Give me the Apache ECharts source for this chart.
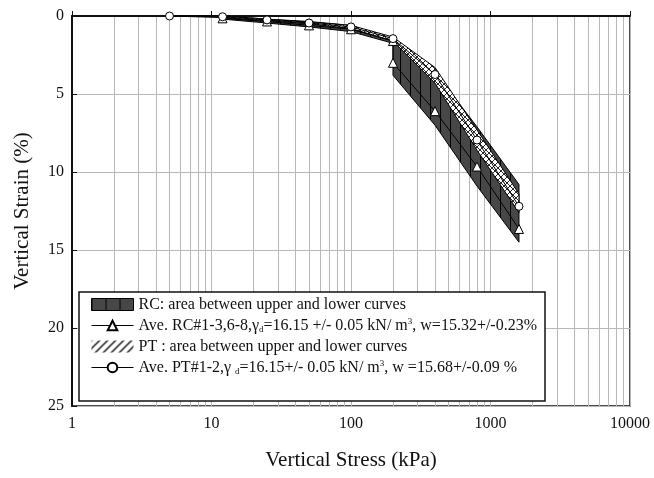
<!DOCTYPE html>
<html>
<head>
<meta charset="utf-8">
<script src="https://cdn.jsdelivr.net/npm/echarts@6/dist/echarts.min.js"></script>
<style>html,body{margin:0;padding:0;background:#fff;}#chart{width:654px;height:478px;}</style>
</head>
<body>
<div id="chart"></div>
<script>
// ---- data ----
var rcStress = [12, 25, 50, 100, 200, 200, 400, 800, 1600];
var rcAve    = [0.15, 0.35, 0.6, 0.85, 1.6, 3.0, 6.1, 9.65, 13.65];
var rcUpper  = [0.0, 0.2, 0.35, 0.6, 1.5, 1.6, 3.6, 7.1, 10.8];
var rcLower  = [0.2, 0.45, 0.7, 1.0, 1.75, 3.8, 7.0, 10.9, 14.5];

var ptStress = [5, 12, 25, 50, 100, 200, 400, 800, 1600];
var ptAve    = [0.0, 0.05, 0.25, 0.45, 0.7, 1.45, 3.75, 7.95, 12.2];
var ptUpper  = [0.0, 0.0, 0.2, 0.4, 0.6, 1.35, 3.3, 7.3, 11.4];
var ptLower  = [0.0, 0.1, 0.3, 0.5, 0.8, 1.6, 4.3, 8.6, 12.6];

var xTickLabels = ['1', '10', '100', '1000', '10000'];
var yTickLabels = ['0', '5', '10', '15', '20', '25'];

var nameRCBand = 'RC: area between upper and lower curves';
var nameRCAve  = 'Ave. RC#1-3,6-8,γd=16.15 +/- 0.05 kN/ m3, w=15.32+/-0.23%';
var namePTBand = 'PT : area between upper and lower curves';
var namePTAve  = 'Ave. PT#1-2,γ d=16.15+/- 0.05 kN/ m3, w =15.68+/-0.09 %';
var richNames = {};
richNames[nameRCBand] = 'RC: area between upper and lower curves';
richNames[nameRCAve]  = 'Ave. RC#1-3,6-8,γ{sub|d}=16.15 +/- 0.05 kN/ m{sup|3}, w=15.32+/-0.23%';
richNames[namePTBand] = 'PT : area between upper and lower curves';
richNames[namePTAve]  = 'Ave. PT#1-2,γ {sub|d}=16.15+/- 0.05 kN/ m{sup|3}, w =15.68+/-0.09 %';

// ---- patterns ----
function makePattern(w, h, draw) {
  var c = document.createElement('canvas');
  c.width = w; c.height = h;
  var ctx = c.getContext('2d');
  draw(ctx, w, h);
  return { image: c, repeat: 'repeat' };
}
var rcPlotPattern = makePattern(10, 20, function (ctx, w, h) {
  ctx.fillStyle = '#474747'; ctx.fillRect(0, 0, w, h);
  ctx.strokeStyle = '#000'; ctx.lineWidth = 1;
  ctx.beginPath(); ctx.moveTo(0.5, 0); ctx.lineTo(0.5, h); ctx.stroke();
});
var rcLegendPattern = makePattern(14, 14, function (ctx, w, h) {
  ctx.fillStyle = '#474747'; ctx.fillRect(0, 0, w, h);
  ctx.strokeStyle = '#000'; ctx.lineWidth = 2;
  ctx.beginPath(); ctx.moveTo(0, 0); ctx.lineTo(0, h); ctx.stroke();
});
var ptPlotPattern = makePattern(6, 6, function (ctx, w, h) {
  ctx.fillStyle = '#fff'; ctx.fillRect(0, 0, w, h);
  ctx.strokeStyle = '#111'; ctx.lineWidth = 0.9;
  ctx.beginPath();
  ctx.moveTo(0, h); ctx.lineTo(w, 0);
  ctx.moveTo(0, 0); ctx.lineTo(w, h);
  ctx.stroke();
});
var ptLegendPattern = makePattern(8, 8, function (ctx, w, h) {
  ctx.fillStyle = '#fff'; ctx.fillRect(0, 0, w, h);
  ctx.strokeStyle = '#000'; ctx.lineWidth = 1.3;
  ctx.beginPath();
  ctx.moveTo(0, h); ctx.lineTo(w, 0);
  ctx.moveTo(-1, 1); ctx.lineTo(1, -1);
  ctx.moveTo(w - 1, h + 1); ctx.lineTo(w + 1, h - 1);
  ctx.stroke();
});

// minor vertical grid values (2..9 of each decade)
var minorGrid = [];
[1, 10, 100, 1000].forEach(function (d) {
  for (var k = 2; k <= 9; k++) minorGrid.push({ xAxis: k * d });
});

function bandSeries(name, stress, upper, lower, pattern, z) {
  return {
    name: name,
    type: 'custom',
    z: z,
    data: stress.map(function (s, i) { return [s, upper[i], lower[i]]; }),
    encode: { x: 0, y: [1, 2] },
    renderItem: function (params, api) {
      if (params.dataIndex !== 0) return null;
      var pts = [];
      for (var i = 0; i < stress.length; i++) pts.push(api.coord([stress[i], upper[i]]));
      for (var j = stress.length - 1; j >= 0; j--) pts.push(api.coord([stress[j], lower[j]]));
      return {
        type: 'polygon',
        shape: { points: pts },
        style: { fill: pattern, stroke: '#000', lineWidth: 1 }
      };
    },
    silent: true
  };
}

var serif = 'Liberation Serif, Times New Roman, serif';
var chart = echarts.init(document.getElementById('chart'), null, { renderer: 'canvas' });
chart.setOption({
  animation: false,
  backgroundColor: '#fff',
  grid: {
    left: 72, right: 24, top: 16, bottom: 72,
    show: true, borderColor: '#111', borderWidth: 1.5, backgroundColor: 'transparent'
  },
  xAxis: {
    type: 'log', logBase: 10, min: 1, max: 10000,
    name: 'Vertical Stress (kPa)', nameLocation: 'middle', nameGap: 44,
    nameTextStyle: { fontFamily: serif, fontSize: 21, color: '#111' },
    axisLine: { lineStyle: { color: '#111', width: 2 } },
    axisTick: { inside: true, length: 5, lineStyle: { color: '#111' } },
    axisLabel: {
      fontFamily: serif, fontSize: 16, color: '#111', margin: 10,
      formatter: function (v) { var i = Math.round(Math.log10(v)); return xTickLabels[i]; }
    },
    splitLine: { show: true, lineStyle: { color: '#b8b8b8', width: 1 } }
  },
  yAxis: {
    type: 'value', inverse: true, min: 0, max: 25, interval: 5,
    name: 'Vertical Strain (%)', nameLocation: 'middle', nameGap: 39, nameRotate: 90,
    nameTextStyle: { fontFamily: serif, fontSize: 21, color: '#111' },
    axisLine: { show: true, lineStyle: { color: '#111', width: 2 } },
    axisTick: { show: true, inside: true, length: 5, lineStyle: { color: '#111' } },
    axisLabel: {
      fontFamily: serif, fontSize: 16, color: '#111', margin: 8,
      formatter: function (v) { return yTickLabels[Math.round(v / 5)]; }
    },
    splitLine: { show: true, lineStyle: { color: '#b8b8b8', width: 1 } }
  },
  legend: {
    z: 50,
    orient: 'vertical',
    left: 79, top: 292,
    padding: [4, 8, 25, 12],
    itemGap: 4,
    itemWidth: 42, itemHeight: 12,
    backgroundColor: '#fff',
    borderColor: '#111', borderWidth: 1.5,
    selectedMode: false,
    lineStyle: { width: 1, color: '#000' },
    textStyle: {
      fontFamily: serif, fontSize: 16, color: '#111', lineHeight: 17,
      rich: {
        sub: { fontFamily: serif, fontSize: 9, lineHeight: 17, verticalAlign: 'bottom', color: '#111' },
        sup: { fontFamily: serif, fontSize: 9, lineHeight: 17, verticalAlign: 'top', color: '#111' }
      }
    },
    formatter: function (name) { return richNames[name]; },
    data: [
      { name: nameRCBand, icon: 'rect', itemStyle: { color: rcLegendPattern, borderColor: '#000', borderWidth: 1 } },
      { name: nameRCAve },
      { name: namePTBand, icon: 'rect', itemStyle: { color: ptLegendPattern, borderColor: '#fff', borderWidth: 0 } },
      { name: namePTAve }
    ]
  },
  series: [
    {
      name: 'grid-minor', type: 'line', data: [], z: 0, silent: true,
      markLine: {
        silent: true, symbol: ['none', 'none'], label: { show: false },
        lineStyle: { color: '#b8b8b8', width: 1, type: 'solid' },
        emphasis: { disabled: true },
        z: 0,
        data: minorGrid
      }
    },
    bandSeries(nameRCBand, rcStress, rcUpper, rcLower, rcPlotPattern, 2),
    bandSeries(namePTBand, ptStress, ptUpper, ptLower, ptPlotPattern, 3),
    {
      name: nameRCAve, type: 'line', z: 4,
      data: rcStress.map(function (s, i) { return [s, rcAve[i]]; }),
      symbol: 'triangle', symbolSize: 9,
      lineStyle: { color: '#000', width: 1 },
      itemStyle: { color: '#fff', borderColor: '#000', borderWidth: 1 }
    },
    {
      name: namePTAve, type: 'line', z: 5,
      data: ptStress.map(function (s, i) { return [s, ptAve[i]]; }),
      symbol: 'circle', symbolSize: 8,
      lineStyle: { color: '#000', width: 1 },
      itemStyle: { color: '#fff', borderColor: '#000', borderWidth: 1 }
    }
  ]
});
</script>
</body>
</html>
